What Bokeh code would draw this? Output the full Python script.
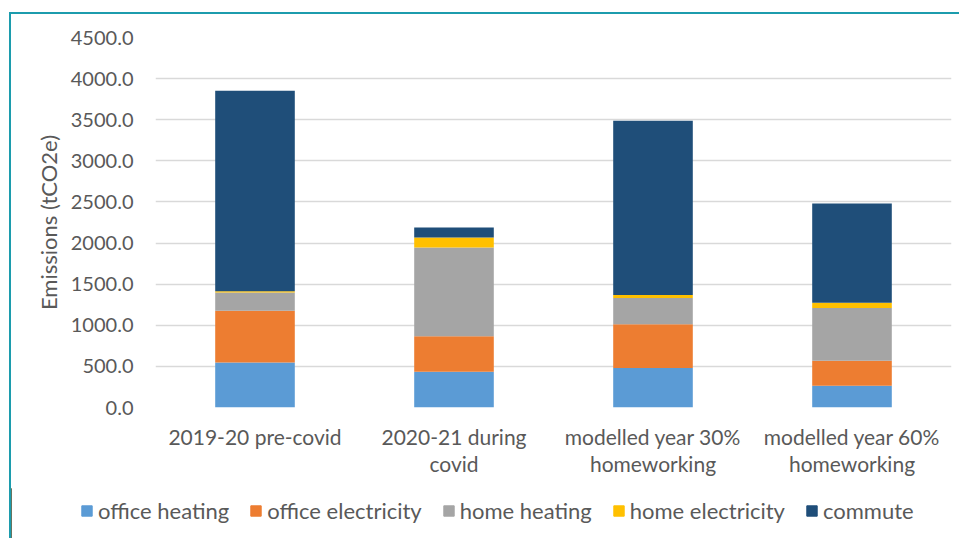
from bokeh.plotting import figure
from bokeh.models import FactorRange, NumeralTickFormatter, SingleIntervalTicker, Legend
from bokeh.embed import file_html
from bokeh.resources import INLINE

# Emissions (tCO2e) by scenario, split by source
categories = ["2019-20 pre-covid", "2020-21 during\ncovid",
              "modelled year 30%\nhomeworking", "modelled year 60%\nhomeworking"]
office_heating = [547, 434, 479, 264]
office_electricity = [629, 434, 535, 304]
home_heating = [223, 1078, 317, 641]
home_electricity = [15, 122, 36, 65]
commute = [2439, 122, 2121, 1208]

series_names = ["office heating", "office electricity", "home heating",
                "home electricity", "commute"]
series_colors = ["#5B9BD5", "#ED7D31", "#A5A5A5", "#FFC000", "#1F4E79"]

FONT = "Lato"
TEXT = "#595959"
FRAME = "2px solid #1C9CAD"

data = {"cat": categories}
for name, vals in zip(series_names, [office_heating, office_electricity,
                                      home_heating, home_electricity, commute]):
    data[name] = vals

p = figure(width=950, height=526, x_range=FactorRange(*categories, range_padding=0),
           y_range=(0, 4500), output_backend="svg", toolbar_location=None,
           min_border_left=144, min_border_right=10, min_border_top=23,
           min_border_bottom=133)
# teal chart frame along the top and left edges
p.styles = {"border-left": FRAME, "border-top": FRAME,
            "margin-left": "9px", "margin-top": "12px"}

p.vbar_stack(series_names, x="cat", width=0.4, source=data,
             color=series_colors, line_width=0)

p.outline_line_color = None
p.background_fill_color = "white"
p.border_fill_color = "white"

# grid
p.xgrid.grid_line_color = None
p.ygrid.grid_line_color = "#D9D9D9"
p.ygrid.grid_line_width = 1.6

# y axis
yax = p.yaxis[0]
yax.ticker = SingleIntervalTicker(interval=500)
yax.formatter = NumeralTickFormatter(format="0.0")
yax.axis_line_color = None
yax.major_tick_line_color = None
yax.minor_tick_line_color = None
yax.major_label_text_font = FONT
yax.major_label_text_font_size = "20px"
yax.major_label_text_color = TEXT
yax.major_label_standoff = 16
yax.axis_label = "Emissions (tCO2e)"
yax.axis_label_text_font = FONT
yax.axis_label_text_font_size = "22px"
yax.axis_label_text_font_style = "normal"
yax.axis_label_text_color = TEXT
yax.axis_label_standoff = 6

# x axis
xax = p.xaxis[0]
xax.axis_line_color = None
xax.major_tick_line_color = None
xax.minor_tick_line_color = None
xax.major_label_text_font = FONT
xax.major_label_text_font_size = "21px"
xax.major_label_text_color = TEXT
xax.major_label_standoff = 10
xax.major_label_text_line_height = 1.11

# legend strip laid over the bottom band of the chart
leg = figure(width=950, height=50, output_backend="svg", toolbar_location=None,
             x_range=(0, 1), y_range=(0, 1),
             x_axis_location=None, y_axis_location=None,
             min_border_left=0, min_border_right=0,
             min_border_top=0, min_border_bottom=0)
leg.styles = {"margin-left": "11px", "margin-top": "-50px"}
leg.outline_line_color = None
leg.grid.visible = False
leg.background_fill_alpha = 0
leg.border_fill_alpha = 0
# swatch renderers sit outside the visible range; only their legend keys show
swatches = [leg.vbar(x=[-5], top=[1], width=0.1, color=c) for c in series_colors]

legend = Legend(items=[(n, [r]) for n, r in zip(series_names, swatches)],
                orientation="horizontal", location=(69, 14),
                label_text_font=FONT, label_text_font_size="22px",
                label_text_color=TEXT, glyph_width=13, glyph_height=13,
                label_standoff=5, spacing=20, padding=0, margin=0,
                border_line_color=None, background_fill_alpha=0)
leg.add_layout(legend)

open("out.html", "w").write(file_html([p, leg], INLINE))
